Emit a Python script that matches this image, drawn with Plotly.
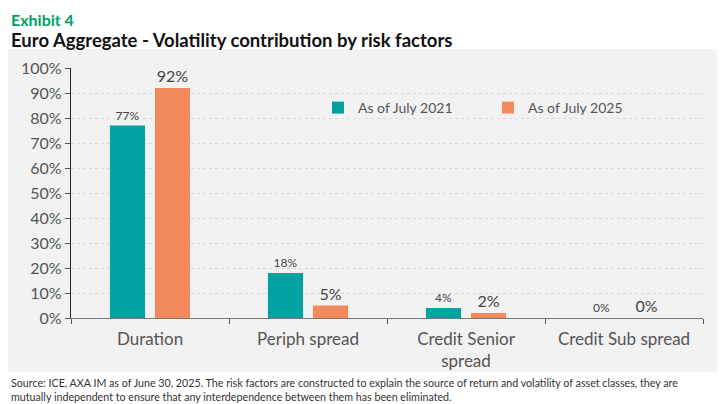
import plotly.graph_objects as go

factors = ['Duration', 'Periph spread', 'Credit Senior<br>spread', 'Credit Sub spread']
july_2021 = [77, 18, 4, 0]
july_2025 = [92, 5, 2, 0]
y_ticks = [0, 10, 20, 30, 40, 50, 60, 70, 80, 90, 100]

TEAL = '#00A3A1'
ORANGE = '#F28A5C'
GREY_TXT = '#555555'
FONT = 'Lato, Open Sans, sans-serif'

# the page puts the figure 8px in from the top-left corner
OFF = 8
W, H = 725 - OFF, 404 - OFF
# plot area wanted in window pixels: x 71..703, y 68..318
L, R, T, B = 71 - OFF, 725 - 703, 68 - OFF, 404 - 318
pw, ph = W - L - R, H - T - B


def px_x(x):
    return (x - OFF - L) / pw


def px_y(y):
    return (H - B - (y - OFF)) / ph


fig = go.Figure()

fig.add_trace(go.Bar(
    x=factors, y=july_2021, name='As of July 2021',
    marker=dict(color=TEAL, line=dict(width=0)),
    text=[f'{v}%' for v in july_2021], textposition='outside',
    outsidetextfont=dict(size=12, color='#444444', family=FONT),
    constraintext='none', cliponaxis=False,
))
fig.add_trace(go.Bar(
    x=factors, y=july_2025, name='As of July 2025',
    marker=dict(color=ORANGE, line=dict(width=0)),
    text=[f'{v}%' for v in july_2025], textposition='outside',
    outsidetextfont=dict(size=16, color='#444444', family=FONT),
    constraintext='none', cliponaxis=False,
))

fig.add_shape(type='rect', xref='paper', yref='paper',
              x0=px_x(OFF), x1=px_x(723), y0=px_y(372), y1=px_y(49),
              fillcolor='#F2F2F2', line=dict(width=0), layer='below')

fig.add_annotation(text='<b>Exhibit 4</b>', xref='paper', yref='paper',
                   x=px_x(OFF + 1), y=px_y(OFF), xanchor='left', yanchor='top',
                   showarrow=False, font=dict(size=16, color='#00A060', family=FONT))
fig.add_annotation(text='<b>Euro Aggregate - Volatility contribution by risk factors</b>',
                   xref='paper', yref='paper',
                   x=px_x(OFF + 1), y=px_y(40), xanchor='left', yanchor='middle',
                   showarrow=False, font=dict(size=18.5, color='#111111', family=FONT))
fig.add_annotation(
    text='Source: ICE, AXA IM as of June 30, 2025. The risk factors are constructed to explain the source of return and volatility of asset classes, they are<br>'
         'mutually independent to ensure that any interdependence between them has been eliminated.',
    xref='paper', yref='paper', x=px_x(OFF + 1), y=px_y(389), xanchor='left', yanchor='middle',
    align='left', showarrow=False, font=dict(size=10.7, color='#333333', family=FONT))

fig.update_layout(
    width=W, height=H,
    margin=dict(l=L, r=R, t=T, b=B, pad=0, autoexpand=False),
    paper_bgcolor='white', plot_bgcolor='rgba(0,0,0,0)',
    barmode='group', bargap=0.43, bargroupgap=0.22,
    font=dict(family=FONT, color=GREY_TXT),
    showlegend=True,
    legend=dict(orientation='h', x=px_x(318), y=px_y(108), xanchor='left', yanchor='middle',
                bgcolor='rgba(0,0,0,0)', font=dict(size=14, color=GREY_TXT),
                entrywidth=125, entrywidthmode='pixels', itemwidth=30),
)

fig.update_yaxes(
    range=[0, 100], tickvals=y_ticks, ticktext=[f'{v}%' for v in y_ticks],
    showgrid=True, gridcolor='#DADADA', griddash='dot', gridwidth=1,
    showline=True, linecolor='#222222', linewidth=1.2,
    ticks='outside', ticklen=5, tickcolor='#555555',
    tickfont=dict(size=16, color=GREY_TXT), zeroline=False, fixedrange=True,
)
fig.update_xaxes(
    showline=True, linecolor='#777777', linewidth=1.2,
    ticks='outside', ticklen=5, tickcolor='#555555', tickson='boundaries',
    ticklabelstandoff=5,
    tickfont=dict(size=17, color=GREY_TXT), showgrid=False,
)

fig.write_html('out.html')
